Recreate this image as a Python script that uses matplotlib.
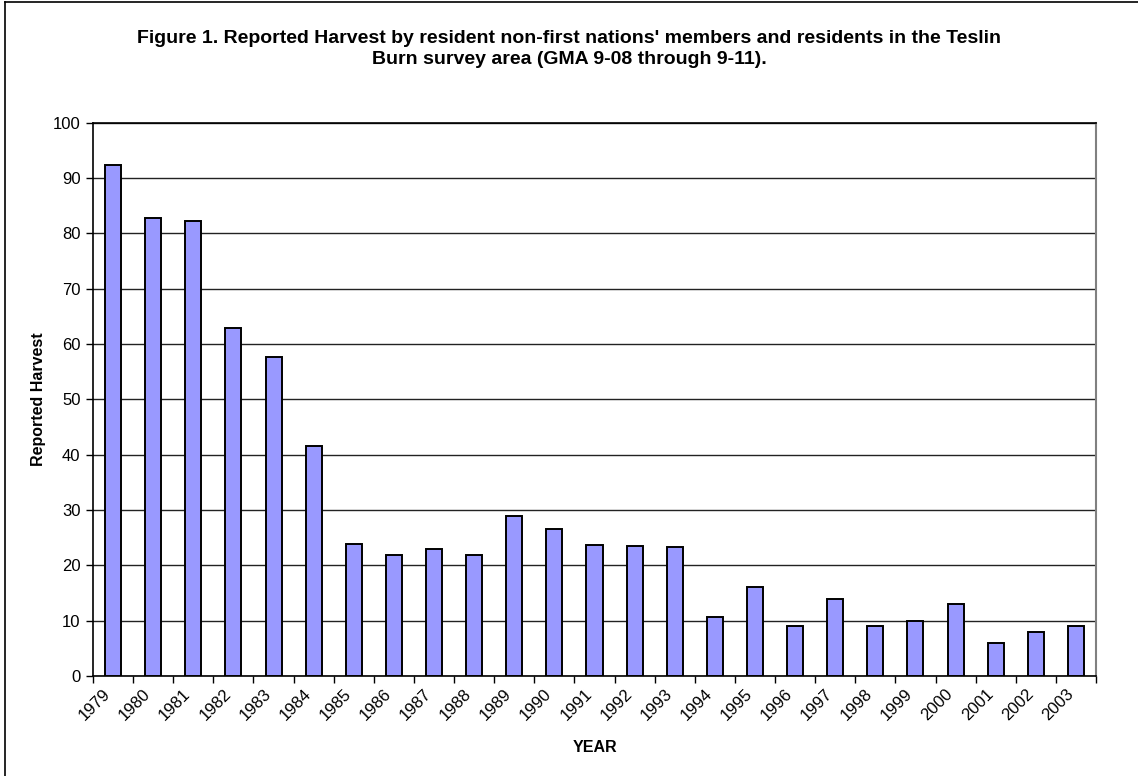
import matplotlib
matplotlib.use("Agg")
import matplotlib.pyplot as plt
import matplotlib.transforms as mtransforms
from matplotlib.lines import Line2D
import numpy as np

plt.rcParams['font.family'] = ['Liberation Sans', 'DejaVu Sans']

# data
years = ["1979", "1980", "1981", "1982", "1983", "1984", "1985", "1986", "1987",
         "1988", "1989", "1990", "1991", "1992", "1993", "1994", "1995", "1996",
         "1997", "1998", "1999", "2000", "2001", "2002", "2003"]
harvest = [92.3, 82.7, 82.3, 62.9, 57.7, 41.6, 23.9, 21.8, 22.9, 21.9, 28.9, 26.6,
           23.6, 23.5, 23.4, 10.6, 16.0, 9.0, 14.0, 9.0, 10.0, 13.0, 6.0, 8.0, 9.0]
y_ticks = list(range(0, 101, 10))

W, H = 1138, 776
fig = plt.figure(figsize=(W / 100, H / 100), dpi=100)
ax = fig.add_axes([93 / W, 1 - 676 / H, (1096 - 93) / W, (676 - 122.7) / H])

x = np.arange(len(years))
ax.bar(x, harvest, width=0.4, color='#9999ff', edgecolor='black', linewidth=1.4, zorder=3)

ax.set_xlim(-0.5, len(years) - 0.5)
ax.set_ylim(0, 100)
ax.set_yticks(y_ticks)
ax.yaxis.grid(True, color='#222222', linewidth=1.0, zorder=0)

# tick marks between categories, labels under bars
ax.set_xticks(np.arange(len(years) + 1) - 0.5)
ax.set_xticklabels([])
ax.set_xticks(x, minor=True)
ax.set_xticklabels(years, minor=True, rotation=45, ha='right', va='center',
                   rotation_mode='anchor', fontsize=12)
ax.tick_params(axis='x', which='minor', length=0, pad=11)
ax.tick_params(axis='x', which='major', length=5, width=1, direction='out')
ax.tick_params(axis='y', length=5, width=1, direction='out', labelsize=12, pad=4)
offset = mtransforms.ScaledTranslation(-5 / 100, 0, fig.dpi_scale_trans)
for lbl in ax.xaxis.get_minorticklabels():
    lbl.set_transform(lbl.get_transform() + offset)

for side in ('left', 'bottom', 'top'):
    ax.spines[side].set_color('black')
    ax.spines[side].set_linewidth(1.2)
ax.spines['right'].set_color('#808080')
ax.spines['right'].set_linewidth(1.5)

ax.set_xlabel('YEAR', fontweight='bold', fontsize=11.5, labelpad=12)
ax.set_ylabel('Reported Harvest', fontweight='bold', fontsize=11.5, labelpad=5)

fig.text(0.5, 1 - 49 / H, "Figure 1. Reported Harvest by resident non-first nations' members and residents in the Teslin\n"
         "Burn survey area (GMA 9-08 through 9-11).", ha='center', va='center',
         fontsize=14, fontweight='bold', linespacing=1.3)

# outer chart border (left and top visible)
fig.add_artist(Line2D([5 / W, 5 / W], [0, 1 - 2 / H], color='black', linewidth=1.2))
fig.add_artist(Line2D([5 / W, 1], [1 - 2 / H, 1 - 2 / H], color='black', linewidth=1.2))

fig.savefig('out.png', dpi=100)
